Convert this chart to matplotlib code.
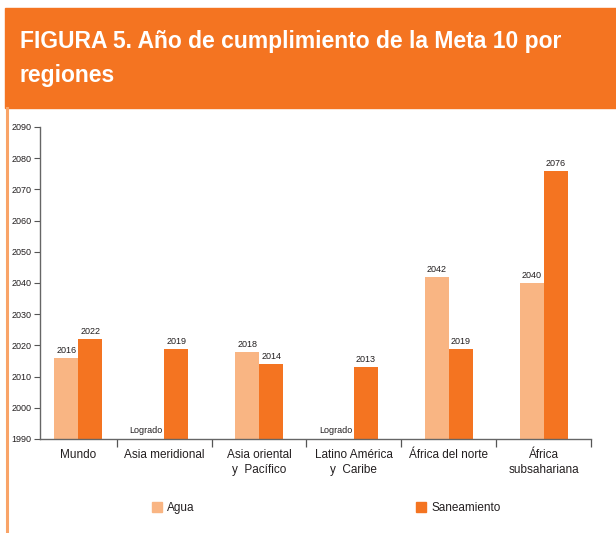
import matplotlib.pyplot as plt
import numpy as np
from matplotlib.patches import Rectangle
from matplotlib.lines import Line2D

plt.rcParams['font.family'] = ['Liberation Sans Narrow', 'Liberation Sans', 'DejaVu Sans']

regiones = ["Mundo", "Asia meridional", "Asia oriental\ny  Pacífico",
            "Latino América\ny  Caribe", "África del norte", "África\nsubsahariana"]
agua = [2016, None, 2018, None, 2042, 2040]          # None = "Logrado"
saneamiento = [2022, 2019, 2014, 2013, 2019, 2076]
y_ticks = list(range(1990, 2091, 10))

c_agua = '#F9B583'
c_san = '#F47421'
c_text = '#231F20'

fig = plt.figure(figsize=(6.16, 5.33), dpi=100)

# header band
fig.patches.append(Rectangle((5 / 616, 1 - 108 / 533), 1, 100 / 533,
                             transform=fig.transFigure, color=c_san, zorder=0))
fig.text(20 / 616, 1 - 30 / 533,
         "FIGURA 5. Año de cumplimiento de la Meta 10 por\nregiones",
         color='white', fontsize=16.5, fontweight='bold', va='top', ha='left',
         linespacing=1.6)
fig.lines.append(Line2D([6.5 / 616, 6.5 / 616], [0, 1 - 108 / 533],
                        transform=fig.transFigure, color='#F9A468', lw=2.2))

ax = fig.add_axes([40 / 616, 1 - 439 / 533, 551 / 616, 312 / 533])
xmin, xmax = -0.31, 5.5
edges = np.concatenate([[xmin], np.arange(0.5, 6, 1.0)])
centers = (edges[:-1] + edges[1:]) / 2
w = 0.253
base = y_ticks[0]

for i, (a, s) in enumerate(zip(agua, saneamiento)):
    xa = centers[i] - w / 2
    xs = centers[i] + w / 2
    if a is None:
        ax.annotate("Logrado", (xa, base), xytext=(-4.5, 3), textcoords='offset points',
                    ha='center', va='bottom', fontsize=6.5, color=c_text)
    else:
        ax.bar(xa, a - base, w, bottom=base, color=c_agua, zorder=2)
        ax.annotate(str(a), (xa, a), xytext=(0, 2), textcoords='offset points',
                    ha='center', va='bottom', fontsize=6.5, color=c_text)
    ax.bar(xs, s - base, w, bottom=base, color=c_san, zorder=2)
    ax.annotate(str(s), (xs, s), xytext=(0, 2), textcoords='offset points',
                ha='center', va='bottom', fontsize=6.5, color=c_text)

ax.set_xlim(xmin, xmax)
ax.set_ylim(1990, 2090)
ax.set_yticks(y_ticks)
ax.tick_params(axis='y', labelsize=6.5, length=4, width=0.8, colors='#555555',
               labelcolor=c_text, pad=2)
ax.set_xticks(edges[1:])
ax.set_xticklabels([])
ax.tick_params(axis='x', length=6, width=0.9, colors='#555555', direction='out')
for c, lab in zip(centers, regiones):
    ax.text(c, -0.033, lab, transform=ax.get_xaxis_transform(), ha='center', va='top',
            fontsize=8.5, color=c_text, linespacing=1.35)

for sp in ['top', 'right']:
    ax.spines[sp].set_visible(False)
for sp in ['left', 'bottom']:
    ax.spines[sp].set_color('#666666')
    ax.spines[sp].set_linewidth(1.0)

h1 = Rectangle((0, 0), 1, 1, color=c_agua)
h2 = Rectangle((0, 0), 1, 1, color=c_san)
fig.legend([h1, h2], ["Agua", "Saneamiento"], ncol=2, frameon=False,
           loc='center left', bbox_to_anchor=(141 / 616, 1 - 508 / 533),
           fontsize=8.5, handlelength=0.85, handleheight=0.85, handletextpad=0.45,
           columnspacing=18.75, labelcolor=c_text)

fig.savefig("out.png", dpi=100)
